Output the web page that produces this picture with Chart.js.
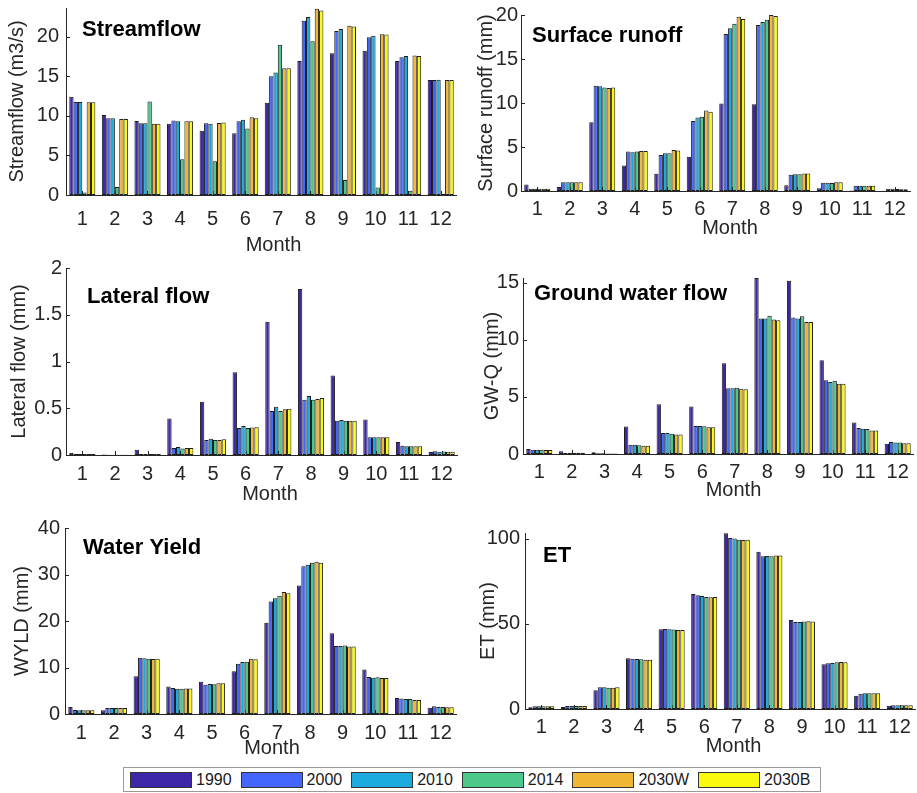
<!DOCTYPE html>
<html>
<head>
<meta charset="utf-8">
<script src="https://cdn.jsdelivr.net/npm/chart.js@4.4.0/dist/chart.umd.min.js"></script>
<style>
  body { margin: 0; background: #fff; width: 917px; height: 793px; position: relative; overflow: hidden;
         font-family: "Liberation Sans", Arial, sans-serif; }
  .panel { position: absolute; }
  #legend { position: absolute; left: 123px; top: 767px; width: 698px; height: 25px; box-sizing: border-box;
            border: 1px solid #9a9a9a; display: flex; align-items: center; padding-left: 6px;
            font-size: 16px; color: #1a1a1a; }
  .item { display: flex; align-items: center; margin-right: 9px; }
  .swatch { width: 62px; height: 16px; box-sizing: border-box; border: 1px solid #333; margin-right: 4px; }
</style>
</head>
<body>
<div id="legend"></div>
<script>
const months = ['1', '2', '3', '4', '5', '6', '7', '8', '9', '10', '11', '12'];
const seriesNames = ['1990', '2000', '2010', '2014', '2030W', '2030B'];
const seriesColors = ['#3e26a8', '#4367fd', '#1caadf', '#4cc88b', '#f1b635', '#f9fa0e'];

// one row per series (1990, 2000, 2010, 2014, 2030W, 2030B), one value per month
const streamflow = [
  [12.4, 10.1, 9.35, 9.0, 8.1, 7.8, 11.65, 16.9, 17.9, 18.2, 16.9, 14.5],
  [11.75, 9.7, 9.05, 9.4, 9.05, 9.3, 15.0, 22.0, 20.7, 19.9, 17.4, 14.5],
  [11.75, 9.7, 9.05, 9.3, 9.0, 9.5, 15.45, 22.45, 20.95, 20.1, 17.55, 14.55],
  [0.3, 1.0, 11.8, 4.5, 4.25, 8.4, 18.95, 19.4, 1.9, 0.95, 0.55, 0.15],
  [11.7, 9.6, 9.0, 9.3, 9.1, 9.8, 16.0, 23.5, 21.35, 20.3, 17.6, 14.5],
  [11.7, 9.6, 9.0, 9.3, 9.15, 9.7, 16.0, 23.3, 21.25, 20.25, 17.55, 14.5]
];
const surfaceRunoff = [
  [0.75, 0.45, 7.8, 2.9, 1.95, 3.9, 9.95, 9.85, 0.65, 0.3, 0.05, 0.02],
  [0.25, 1.0, 11.95, 4.5, 4.1, 7.95, 17.85, 18.85, 1.85, 0.95, 0.6, 0.25],
  [0.25, 1.0, 11.9, 4.4, 4.3, 8.35, 18.5, 19.2, 1.9, 0.95, 0.6, 0.25],
  [0.25, 1.0, 11.75, 4.5, 4.3, 8.45, 19.0, 19.45, 1.9, 0.9, 0.6, 0.22],
  [0.25, 1.0, 11.7, 4.55, 4.65, 9.15, 19.8, 20.0, 2.0, 1.0, 0.6, 0.2],
  [0.25, 1.0, 11.75, 4.55, 4.6, 9.0, 19.55, 19.9, 2.0, 1.0, 0.6, 0.2]
];
const lateralFlow = [
  [0.025, 0.005, 0.055, 0.39, 0.57, 0.885, 1.425, 1.775, 0.85, 0.38, 0.14, 0.032],
  [0.012, 0.004, 0.01, 0.075, 0.16, 0.29, 0.47, 0.59, 0.365, 0.19, 0.1, 0.04],
  [0.012, 0.004, 0.01, 0.085, 0.175, 0.31, 0.515, 0.63, 0.375, 0.19, 0.093, 0.035],
  [0.012, 0.004, 0.01, 0.07, 0.16, 0.29, 0.47, 0.59, 0.365, 0.19, 0.093, 0.038],
  [0.012, 0.004, 0.01, 0.075, 0.16, 0.295, 0.49, 0.6, 0.365, 0.19, 0.093, 0.035],
  [0.012, 0.004, 0.01, 0.075, 0.168, 0.298, 0.495, 0.61, 0.365, 0.19, 0.093, 0.035]
];
const groundWater = [
  [0.44, 0.23, 0.15, 2.4, 4.35, 4.15, 7.95, 15.4, 15.15, 8.2, 2.75, 0.9],
  [0.38, 0.12, 0.06, 0.82, 1.83, 2.45, 5.75, 11.85, 11.95, 6.45, 2.27, 1.05],
  [0.38, 0.12, 0.06, 0.82, 1.83, 2.45, 5.75, 11.85, 11.85, 6.3, 2.2, 1.0],
  [0.37, 0.11, 0.05, 0.76, 1.77, 2.42, 5.8, 12.1, 12.05, 6.4, 2.18, 1.0],
  [0.35, 0.1, 0.05, 0.73, 1.7, 2.35, 5.7, 11.77, 11.55, 6.15, 2.05, 0.93],
  [0.35, 0.1, 0.05, 0.73, 1.7, 2.35, 5.67, 11.7, 11.55, 6.15, 2.05, 0.93]
];
const waterYield = [
  [1.5, 0.8, 8.1, 5.9, 6.95, 9.2, 19.65, 27.65, 17.35, 9.55, 3.45, 1.35],
  [0.85, 1.3, 12.1, 5.6, 6.3, 10.8, 24.2, 31.75, 14.6, 7.95, 3.35, 1.65],
  [0.8, 1.3, 12.0, 5.45, 6.45, 11.2, 24.9, 32.1, 14.6, 7.8, 3.2, 1.5],
  [0.8, 1.3, 11.9, 5.45, 6.4, 11.25, 25.45, 32.55, 14.75, 7.9, 3.2, 1.5],
  [0.8, 1.3, 11.85, 5.5, 6.6, 11.9, 26.25, 32.75, 14.5, 7.75, 3.0, 1.45],
  [0.8, 1.3, 11.9, 5.5, 6.6, 11.75, 25.95, 32.55, 14.5, 7.75, 3.0, 1.45]
];
const evapo = [
  [1.0, 1.2, 11.0, 29.8, 46.9, 67.6, 103.3, 92.5, 52.35, 26.3, 7.85, 1.95],
  [1.6, 1.75, 12.75, 29.6, 47.05, 66.9, 100.6, 89.8, 51.2, 26.9, 9.0, 2.15],
  [1.6, 1.75, 12.75, 29.4, 46.9, 66.5, 100.2, 90.0, 51.2, 27.1, 9.2, 2.15],
  [1.6, 1.75, 12.55, 29.2, 46.7, 65.9, 99.6, 89.8, 51.4, 27.45, 9.2, 2.15],
  [1.6, 1.75, 12.55, 29.0, 46.5, 65.7, 99.4, 90.2, 51.6, 27.65, 9.2, 2.15],
  [1.6, 1.75, 12.75, 29.0, 46.5, 65.9, 99.6, 90.2, 51.4, 27.45, 9.2, 2.15]
];

const streamflowTicks = [0, 5, 10, 15, 20];
const surfaceTicks = [0, 5, 10, 15, 20];
const lateralTicks = [0, 0.5, 1, 1.5, 2];
const groundTicks = [0, 5, 10, 15];
const yieldTicks = [0, 10, 20, 30, 40];
const etTicks = [0, 50, 100];

Chart.defaults.font.family = '"Liberation Sans", Arial, sans-serif';
Chart.defaults.color = '#262626';

// matlab-like inward tick marks, bold panel name inside the plot, "Month" label below
const panelText = {
  id: 'panelText',
  beforeDatasetsDraw(chart) {
    const { ctx, chartArea, scales } = chart;
    ctx.save();
    ctx.strokeStyle = '#262626';
    ctx.lineWidth = 1;
    ctx.beginPath();
    scales.y.ticks.forEach(t => {
      const y = Math.round(scales.y.getPixelForValue(t.value)) + 0.5;
      ctx.moveTo(chartArea.left, y);
      ctx.lineTo(chartArea.left + 4, y);
    });
    months.forEach((m, i) => {
      const x = Math.round(scales.x.getPixelForValue(i)) + 0.5;
      ctx.moveTo(x, chartArea.bottom);
      ctx.lineTo(x, chartArea.bottom - 4);
    });
    ctx.stroke();
    ctx.restore();
  },
  afterDraw(chart, args, opts) {
    const { ctx, chartArea } = chart;
    ctx.save();
    ctx.textBaseline = 'middle';
    ctx.textAlign = 'left';
    ctx.fillStyle = '#000';
    ctx.font = 'bold 22px "Liberation Sans", Arial, sans-serif';
    ctx.fillText(opts.name, chartArea.left + opts.nameX, chartArea.top + opts.nameY);
    ctx.textAlign = 'center';
    ctx.fillStyle = '#262626';
    ctx.font = '20px "Liberation Sans", Arial, sans-serif';
    ctx.fillText('Month', (chartArea.left + chartArea.right) / 2 + opts.monthX, chartArea.bottom + opts.monthY);
    ctx.restore();
  }
};

const panels = [
  { name: 'Streamflow', yTitle: 'Streamflow (m3/s)', data: streamflow, ticks: streamflowTicks, max: 23.6,
    left: 0, top: 0, width: 457, height: 257, padTop: 8, axisWidth: 66, xHeight: 62,
    yTitlePad: 5, yTickPad: 7, xTickPad: 12, nameX: 16, nameY: 22, monthX: 12, monthY: 50 },
  { name: 'Surface runoff', yTitle: 'Surface runoff (mm)', data: surfaceRunoff, ticks: surfaceTicks, max: 20,
    left: 460, top: 0, width: 451, height: 240, padTop: 15, axisWidth: 61, xHeight: 49,
    yTitlePad: 14, yTickPad: 3, xTickPad: 6, nameX: 11, nameY: 21, monthX: 14, monthY: 37 },
  { name: 'Lateral flow', yTitle: 'Lateral flow (mm)', data: lateralFlow, ticks: lateralTicks, max: 2,
    left: 0, top: 258, width: 458, height: 248, padTop: 10, axisWidth: 66, xHeight: 51,
    yTitlePad: 7, yTickPad: 4, xTickPad: 7, nameX: 21, nameY: 29, monthX: 8, monthY: 39 },
  { name: 'Ground water flow', yTitle: 'GW-Q (mm)', data: groundWater, ticks: groundTicks, max: 15.4,
    left: 460, top: 268, width: 454, height: 234, padTop: 10, axisWidth: 63, xHeight: 48,
    yTitlePad: 20, yTickPad: 4, xTickPad: 6, nameX: 11, nameY: 16, monthX: 15, monthY: 36 },
  { name: 'Water Yield', yTitle: 'WYLD (mm)', data: waterYield, ticks: yieldTicks, max: 40,
    left: 0, top: 518, width: 457, height: 242, padTop: 10, axisWidth: 65, xHeight: 46,
    yTitlePad: 10, yTickPad: 5, xTickPad: 7, nameX: 18, nameY: 20, monthX: 11, monthY: 34 },
  { name: 'ET', yTitle: 'ET (mm)', data: evapo, ticks: etTicks, max: 103.5,
    left: 460, top: 523, width: 456, height: 235, padTop: 10, axisWidth: 65, xHeight: 49,
    yTitlePad: 16, yTickPad: 5, xTickPad: 6, nameX: 18, nameY: 23, monthX: 13, monthY: 37 }
];

panels.forEach((p, n) => {
  const box = document.createElement('div');
  box.className = 'panel';
  box.style.left = p.left + 'px';
  box.style.top = p.top + 'px';
  box.style.width = p.width + 'px';
  box.style.height = p.height + 'px';
  const canvas = document.createElement('canvas');
  canvas.id = 'panel' + (n + 1);
  box.appendChild(canvas);
  document.body.appendChild(box);

  new Chart(canvas.getContext('2d'), {
    type: 'bar',
    data: {
      labels: months,
      datasets: seriesNames.map((label, i) => ({
        label: label,
        data: p.data[i],
        backgroundColor: seriesColors[i],
        borderColor: '#1e1e1e',
        borderWidth: 1,
        borderSkipped: false,
        categoryPercentage: 0.8,
        barPercentage: 1.0
      }))
    },
    options: {
      responsive: true,
      maintainAspectRatio: false,
      animation: false,
      layout: { padding: { top: p.padTop, left: 0, right: 0, bottom: 0 } },
      plugins: {
        legend: { display: false },
        tooltip: { enabled: false },
        panelText: { name: p.name, nameX: p.nameX, nameY: p.nameY, monthX: p.monthX, monthY: p.monthY }
      },
      scales: {
        x: {
          grid: { display: false, drawTicks: false },
          border: { display: true, color: '#262626', width: 1 },
          ticks: { font: { size: 20 }, padding: p.xTickPad, maxRotation: 0, autoSkip: false },
          afterFit: s => { s.height = p.xHeight; s.paddingLeft = 0; s.paddingRight = 0; }
        },
        y: {
          min: 0,
          max: p.max,
          grid: { display: false, drawTicks: false },
          border: { display: true, color: '#262626', width: 1 },
          ticks: { font: { size: 20 }, padding: p.yTickPad, callback: v => String(v) },
          afterBuildTicks: s => { s.ticks = p.ticks.map(v => ({ value: v })); },
          afterFit: s => { s.width = p.axisWidth; s.paddingTop = 0; s.paddingBottom = 0; },
          title: { display: true, text: p.yTitle, font: { size: 20 }, padding: { top: p.yTitlePad, bottom: 0 } }
        }
      }
    },
    plugins: [panelText]
  });
});

const legend = document.getElementById('legend');
seriesNames.forEach((name, i) => {
  const item = document.createElement('div');
  item.className = 'item';
  const sw = document.createElement('span');
  sw.className = 'swatch';
  sw.style.background = seriesColors[i];
  const txt = document.createElement('span');
  txt.textContent = name;
  item.appendChild(sw);
  item.appendChild(txt);
  legend.appendChild(item);
});
</script>
</body>
</html>
